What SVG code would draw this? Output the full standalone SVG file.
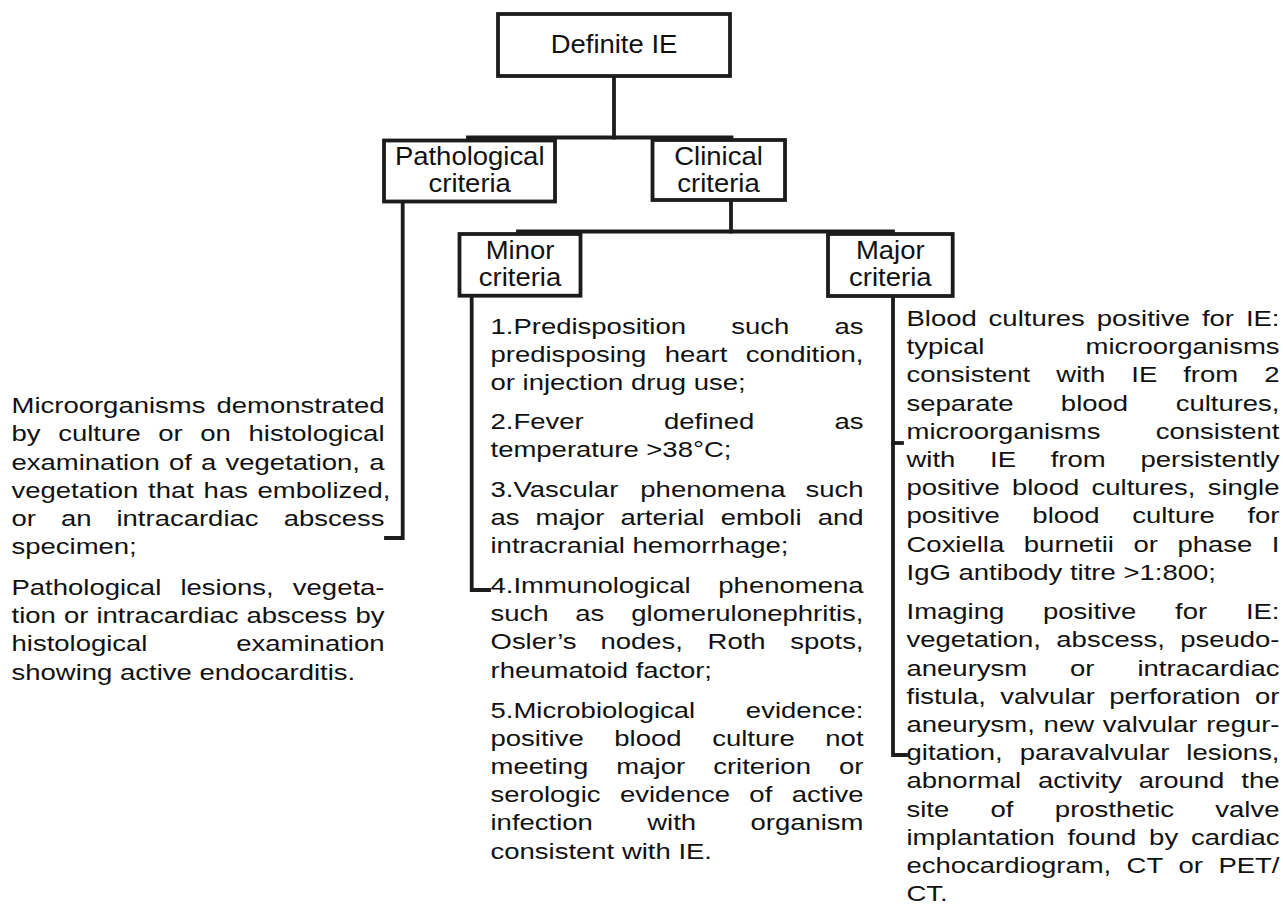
<svg xmlns="http://www.w3.org/2000/svg" width="1283" height="905" viewBox="0 0 1283 905">
<style>
.box{fill:#fff;stroke:#1c1c1c;stroke-width:3.8}
.ln{fill:none;stroke:#1c1c1c;stroke-width:3.8;stroke-linecap:square}
text{font-family:"Liberation Sans",Arial,sans-serif;fill:#111}
.h{font-size:25.2px;text-anchor:middle}
.b{font-size:22.5px}
.e{text-anchor:end}
</style>
<rect width="1283" height="905" fill="#fff"/>
<g id="connectors">
<path class="ln" d="M614,76 V137.5"/>
<path class="ln" d="M468,137.5 H731.5"/>
<path class="ln" d="M731,200 V231.5"/>
<path class="ln" d="M518,231.5 H893"/>
<path class="ln" d="M402.7,201.5 V538 H386"/>
<path class="ln" d="M471.7,295.7 V590 H489"/>
<path class="ln" d="M893,296 V755 H906"/>
<path class="ln" d="M893,443 H902"/>
</g>
<g id="definite-ie">
<rect class="box" x="498" y="14" width="232" height="62"/>
<text class="h" transform="translate(614 0) scale(1.09 1)" x="0" y="53.3">Definite IE</text>
</g>
<g id="pathological-criteria">
<rect class="box" x="384" y="140.5" width="171" height="61"/>
<text class="h" transform="translate(469.7 0) scale(1.09 1)" x="0" y="165">Pathological</text>
<text class="h" transform="translate(469.7 0) scale(1.09 1)" x="0" y="191.7">criteria</text>
</g>
<g id="clinical-criteria">
<rect class="box" x="652.5" y="140" width="132.5" height="60"/>
<text class="h" transform="translate(718.5 0) scale(1.09 1)" x="0" y="165.5">Clinical</text>
<text class="h" transform="translate(718.5 0) scale(1.09 1)" x="0" y="192.3">criteria</text>
</g>
<g id="minor-criteria">
<rect class="box" x="459.5" y="234" width="121" height="61.7"/>
<text class="h" transform="translate(520 0) scale(1.09 1)" x="0" y="259.3">Minor</text>
<text class="h" transform="translate(520 0) scale(1.09 1)" x="0" y="286">criteria</text>
</g>
<g id="major-criteria">
<rect class="box" x="828" y="234" width="124.7" height="62"/>
<text class="h" transform="translate(890.3 0) scale(1.09 1)" x="0" y="259.3">Major</text>
<text class="h" transform="translate(890.3 0) scale(1.09 1)" x="0" y="286">criteria</text>
</g>
<g id="pathological-text" class="b" transform="translate(11.5 0) scale(1.2222 1)">
<text class="b" y="413.3"><tspan x="0">Microorganisms</tspan><tspan x="305.2" class="e">demonstrated</tspan></text>
<text class="b" y="441.5"><tspan x="0">by</tspan><tspan x="38.2">culture</tspan><tspan x="120.1">or</tspan><tspan x="154.5">on</tspan><tspan x="305.2" class="e">histological</tspan></text>
<text class="b" y="469.7"><tspan x="0">examination</tspan><tspan x="128.8">of</tspan><tspan x="155.1">a</tspan><tspan x="175.1">vegetation,</tspan><tspan x="305.2" class="e">a</tspan></text>
<text class="b" y="497.9"><tspan x="0">vegetation</tspan><tspan x="111.7">that</tspan><tspan x="157.2">has</tspan><tspan x="310.1" class="e">embolized,</tspan></text>
<text class="b" y="526.1"><tspan x="0">or</tspan><tspan x="40.5">an</tspan><tspan x="85.9">intracardiac</tspan><tspan x="305.2" class="e">abscess</tspan></text>
<text class="b" x="0" y="554.3">specimen;</text>
<text class="b" y="595"><tspan x="0">Pathological</tspan><tspan x="138.2">lesions,</tspan><tspan x="305.2" class="e">vegeta-</tspan></text>
<text class="b" y="623.2"><tspan x="0">tion</tspan><tspan x="42.9">or</tspan><tspan x="69.5">intracardiac</tspan><tspan x="192.3">abscess</tspan><tspan x="305.2" class="e">by</tspan></text>
<text class="b" y="651.4"><tspan x="0">histological</tspan><tspan x="305.2" class="e">examination</tspan></text>
<text class="b" x="0" y="679.6">showing active endocarditis.</text>
</g>
<g id="minor-text" transform="translate(490.5 0) scale(1.2222 1)">
<text class="b" y="334"><tspan x="0">1.Predisposition</tspan><tspan x="197">such</tspan><tspan x="305.2" class="e">as</tspan></text>
<text class="b" y="362.2"><tspan x="0">predisposing</tspan><tspan x="142.6">heart</tspan><tspan x="305.2" class="e">condition,</tspan></text>
<text class="b" x="0" y="390.4">or injection drug use;</text>
<text class="b" y="429"><tspan x="0">2.Fever</tspan><tspan x="142">defined</tspan><tspan x="305.2" class="e">as</tspan></text>
<text class="b" x="0" y="457.2">temperature &gt;38°C;</text>
<text class="b" y="496.7"><tspan x="0">3.Vascular</tspan><tspan x="122.6">phenomena</tspan><tspan x="305.2" class="e">such</tspan></text>
<text class="b" y="524.9"><tspan x="0">as</tspan><tspan x="36.9">major</tspan><tspan x="106.3">arterial</tspan><tspan x="188.3">emboli</tspan><tspan x="305.2" class="e">and</tspan></text>
<text class="b" x="0" y="553.1">intracranial hemorrhage;</text>
<text class="b" y="593"><tspan x="0">4.Immunological</tspan><tspan x="305.2" class="e">phenomena</tspan></text>
<text class="b" y="621.2"><tspan x="0">such</tspan><tspan x="69.4">as</tspan><tspan x="305.2" class="e">glomerulonephritis,</tspan></text>
<text class="b" y="649.4"><tspan x="0">Osler’s</tspan><tspan x="90">nodes,</tspan><tspan x="177.6">Roth</tspan><tspan x="305.2" class="e">spots,</tspan></text>
<text class="b" x="0" y="677.6">rheumatoid factor;</text>
<text class="b" y="717.7"><tspan x="0">5.Microbiological</tspan><tspan x="305.2" class="e">evidence:</tspan></text>
<text class="b" y="745.9"><tspan x="0">positive</tspan><tspan x="101.3">blood</tspan><tspan x="181.4">culture</tspan><tspan x="305.2" class="e">not</tspan></text>
<text class="b" y="774.1"><tspan x="0">meeting</tspan><tspan x="103">major</tspan><tspan x="182.2">criterion</tspan><tspan x="305.2" class="e">or</tspan></text>
<text class="b" y="802.3"><tspan x="0">serologic</tspan><tspan x="105.9">evidence</tspan><tspan x="211.8">of</tspan><tspan x="305.2" class="e">active</tspan></text>
<text class="b" y="830.5"><tspan x="0">infection</tspan><tspan x="128.2">with</tspan><tspan x="305.2" class="e">organism</tspan></text>
<text class="b" x="0" y="858.7">consistent with IE.</text>
</g>
<g id="major-text" transform="translate(906.5 0) scale(1.2222 1)">
<text class="b" y="326"><tspan x="0">Blood</tspan><tspan x="67.2">cultures</tspan><tspan x="155.7">positive</tspan><tspan x="241.7">for</tspan><tspan x="305.2" class="e">IE:</tspan></text>
<text class="b" y="354.2"><tspan x="0">typical</tspan><tspan x="305.2" class="e">microorganisms</tspan></text>
<text class="b" y="382.4"><tspan x="0">consistent</tspan><tspan x="122.6">with</tspan><tspan x="183.9">IE</tspan><tspan x="226.4">from</tspan><tspan x="305.2" class="e">2</tspan></text>
<text class="b" y="410.6"><tspan x="0">separate</tspan><tspan x="126.3">blood</tspan><tspan x="305.2" class="e">cultures,</tspan></text>
<text class="b" y="438.8"><tspan x="0">microorganisms</tspan><tspan x="305.2" class="e">consistent</tspan></text>
<text class="b" y="467"><tspan x="0">with</tspan><tspan x="68.4">IE</tspan><tspan x="118">from</tspan><tspan x="305.2" class="e">persistently</tspan></text>
<text class="b" y="495.2"><tspan x="0">positive</tspan><tspan x="86.3">blood</tspan><tspan x="151.4">cultures,</tspan><tspan x="305.2" class="e">single</tspan></text>
<text class="b" y="523.4"><tspan x="0">positive</tspan><tspan x="103">blood</tspan><tspan x="184.7">culture</tspan><tspan x="305.2" class="e">for</tspan></text>
<text class="b" y="551.6"><tspan x="0">Coxiella</tspan><tspan x="96">burnetii</tspan><tspan x="185.7">or</tspan><tspan x="221.7">phase</tspan><tspan x="305.2" class="e">I</tspan></text>
<text class="b" x="0" y="579.8">IgG antibody titre &gt;1:800;</text>
<text class="b" y="619.3"><tspan x="0">Imaging</tspan><tspan x="111.7">positive</tspan><tspan x="219.7">for</tspan><tspan x="305.2" class="e">IE:</tspan></text>
<text class="b" y="647.5"><tspan x="0">vegetation,</tspan><tspan x="122.6">abscess,</tspan><tspan x="305.2" class="e">pseudo-</tspan></text>
<text class="b" y="675.7"><tspan x="0">aneurysm</tspan><tspan x="133.8">or</tspan><tspan x="305.2" class="e">intracardiac</tspan></text>
<text class="b" y="703.9"><tspan x="0">fistula,</tspan><tspan x="76.7">valvular</tspan><tspan x="165.9">perforation</tspan><tspan x="305.2" class="e">or</tspan></text>
<text class="b" y="732.1"><tspan x="0">aneurysm,</tspan><tspan x="112.2">new</tspan><tspan x="160.6">valvular</tspan><tspan x="305.2" class="e">regur-</tspan></text>
<text class="b" y="760.3"><tspan x="0">gitation,</tspan><tspan x="92.6">paravalvular</tspan><tspan x="305.2" class="e">lesions,</tspan></text>
<text class="b" y="788.5"><tspan x="0">abnormal</tspan><tspan x="107.6">activity</tspan><tspan x="190.1">around</tspan><tspan x="305.2" class="e">the</tspan></text>
<text class="b" y="816.7"><tspan x="0">site</tspan><tspan x="68.8">of</tspan><tspan x="121.4">prosthetic</tspan><tspan x="305.2" class="e">valve</tspan></text>
<text class="b" y="844.9"><tspan x="0">implantation</tspan><tspan x="131.7">found</tspan><tspan x="198.5">by</tspan><tspan x="305.2" class="e">cardiac</tspan></text>
<text class="b" y="873.1"><tspan x="0">echocardiogram,</tspan><tspan x="180.1">CT</tspan><tspan x="222.6">or</tspan><tspan x="305.2" class="e">PET/</tspan></text>
<text class="b" x="0" y="901.3">CT.</text>
</g>
</svg>
